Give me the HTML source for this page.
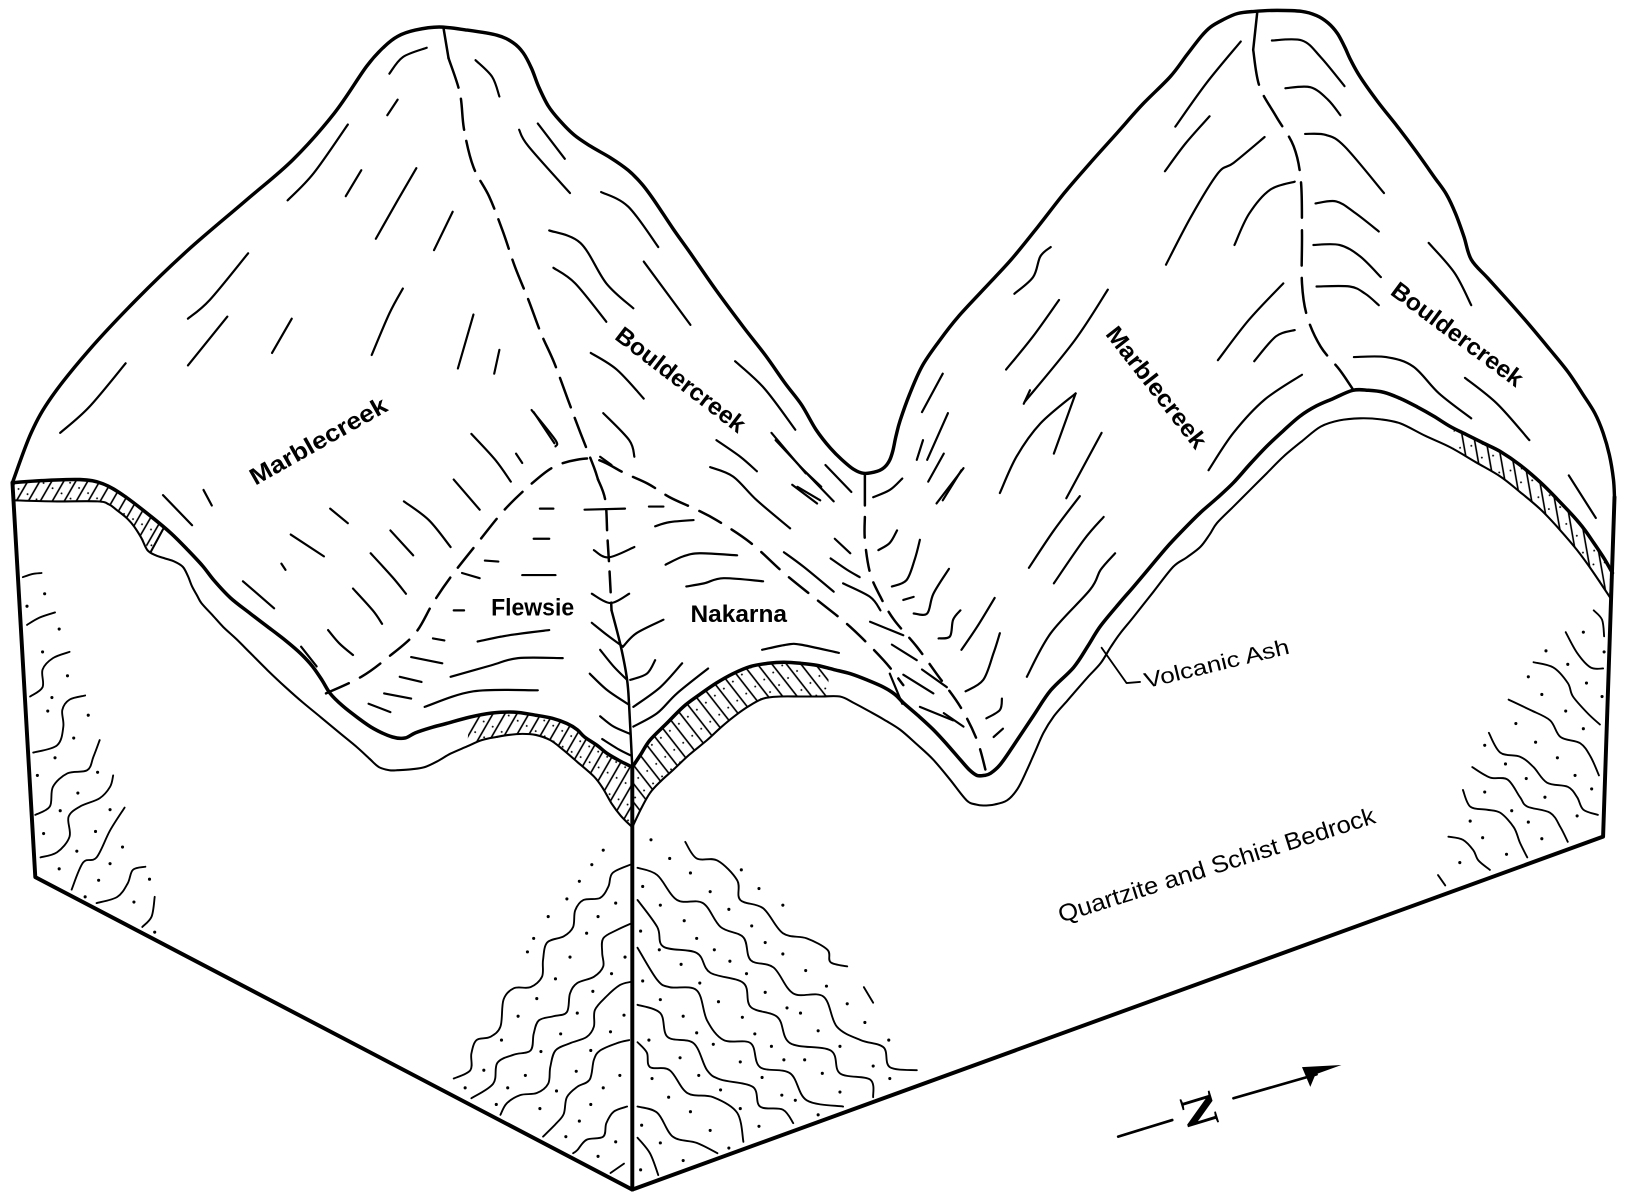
<!DOCTYPE html>
<html><head><meta charset="utf-8"><style>html,body{margin:0;padding:0;background:#fff;}svg{display:block}</style></head>
<body>
<svg id="dia" xmlns="http://www.w3.org/2000/svg" width="1628" height="1201" viewBox="0 0 1568 1157" preserveAspectRatio="none">
<defs>
<pattern id="hA" patternUnits="userSpaceOnUse" width="10" height="30" patternTransform="rotate(30)"><line x1="5" y1="0" x2="5" y2="30" stroke="#000" stroke-width="1.6"/><circle cx="1" cy="9" r="0.9"/><circle cx="9" cy="22" r="0.9"/></pattern>
<pattern id="hC" patternUnits="userSpaceOnUse" width="11" height="30" patternTransform="rotate(-38)"><line x1="5" y1="0" x2="5" y2="30" stroke="#000" stroke-width="1.6"/><circle cx="1" cy="9" r="0.9"/><circle cx="9" cy="22" r="0.9"/></pattern>
<pattern id="hD" patternUnits="userSpaceOnUse" width="11" height="30" patternTransform="rotate(-10)"><line x1="5" y1="0" x2="5" y2="30" stroke="#000" stroke-width="1.6"/><circle cx="1" cy="9" r="0.9"/><circle cx="9" cy="22" r="0.9"/></pattern>
<clipPath id="cA"><polygon points="12,465 40,463 77,462 99,466 120,478 146,498 158,508 145,532 136,518 129,507 122,499 112,491 105,486 94,483 50,483 12,482"/></clipPath>
<clipPath id="cB"><polygon points="452,691 473,687 495,686 516,689 532,692 546,697 556,703 563,710 575,718 585,726 597,733 609,739 609,797 598,786 589,774 581,760 572,748 556,734 542,722 530,713 516,708 503,707 490,708 478,710 464,713 450,719"/></clipPath>
<clipPath id="cC"><polygon points="609,739 617,727 626,713 642,697 658,681 674,669 690,658 706,649 723,642 740,639 755,638 771,639 787,641 798,644 798,671 790,671 771,671 752,671 735,673 720,681 706,691 694,701 681,713 664,727 648,742 637,752 626,764 617,780 609,797"/></clipPath>
<clipPath id="cD"><polygon points="1400,412 1413,419 1429,427 1445,435 1464,448 1484,465 1500,481 1516,498 1526,510 1535,523 1545,538 1553,552 1552,576 1551,576 1535,552 1519,530 1502,510 1484,491 1464,474 1445,459 1421,445 1400,432"/></clipPath>
</defs>
<rect width="1568" height="1157" fill="#fff"/>

<rect x="0" y="440" width="200" height="120" fill="url(#hA)" clip-path="url(#cA)"/>
<rect x="440" y="680" width="175" height="125" fill="url(#hA)" clip-path="url(#cB)"/>
<rect x="605" y="630" width="200" height="175" fill="url(#hC)" clip-path="url(#cC)"/>
<rect x="1390" y="400" width="170" height="180" fill="url(#hD)" clip-path="url(#cD)"/>

<g fill="none" stroke="#000" stroke-linecap="round" stroke-linejoin="round">
<!-- block edges (sharp) -->
<g stroke-width="3.8">
<polyline points="12,465 34,845 609,1146 1544,806 1555,479"/>
<line x1="609" y1="739" x2="609" y2="1146"/>
</g>
<line x1="427" y1="26" x2="432" y2="56" stroke-width="2.4"/>
<line x1="833" y1="456" x2="833" y2="487" stroke-width="2.4"/>
<line x1="1211" y1="11" x2="1207" y2="48" stroke-width="2.4"/>
<line x1="145" y1="532" x2="158" y2="508" stroke-width="2"/>

<g class="smooth">
<polyline stroke-width="3.3" points="12,465 30,417 50,382 86,337 131,289 181,241 237,193 282,154 322,109 353,64 370,45 383,35 400,29 423,26 450,29 479,34 494,41 504,51 512,66 519,84 528,102 539,116 553,130 569,141 588,152 605,164 618,177 630,193 648,220 665,244 690,280 716,315 737,342 756,369 772,390 786,414 800,432 811,443 822,452 832,456 845,454 852,450 857,443 860,434 863,420 867,405 876,380 888,353 905,328 923,305 948,278 974,250 1000,218 1025,186 1050,157 1076,128 1100,101 1127,74 1143,53 1157,35 1166,26 1178,19 1192,13 1208,11 1230,10 1254,11 1268,15 1279,22 1288,32 1295,45 1301,58 1310,74 1327,98 1346,122 1364,146 1381,170 1393,187 1402,206 1410,228 1417,250 1433,268 1452,289 1473,313 1493,337 1510,358 1524,379 1536,398 1544,417 1550,438 1554,462 1555,479"/>

<g stroke-width="3.4">
<polyline points="12,465 40,463 77,462 99,466 120,478 146,498 165,514 181,530 195,545 206,559 222,576 241,591 258,604 275,617 290,630 301,642 310,655 318,668 330,680 344,691 360,702 378,710 390,711 400,706 415,701 430,697 452,691 473,687 495,686 516,689 532,692 546,697 556,703 563,710 575,718 585,726 597,733 609,739"/>
<polyline points="609,739 617,727 626,713 642,697 658,681 674,669 690,658 706,649 723,642 740,639 755,638 771,639 787,641 803,645 819,649 835,655 851,662 862,669 870,677 885,690 899,703 912,717 925,732 934,742 941,747 948,747 954,745 963,737 975,720 995,690 1012,665 1034,643 1048,622 1060,603 1079,580 1092,565 1108,546 1124,527 1140,510 1156,494 1172,480 1188,465 1204,447 1220,430 1236,415 1252,401 1268,391 1284,384 1303,376 1318,376 1333,378 1349,384 1365,392 1381,401 1397,411 1413,419 1429,427 1445,435 1464,448 1484,465 1500,481 1516,498 1526,510 1535,523 1545,538 1553,552"/>
</g>
<g stroke-width="2">
<polyline points="12,482 50,483 94,483 105,486 112,491 122,499 129,507 136,518 142,530 150,535 159,538 168,541 176,546 181,555 185,565 190,574 194,581 205,593 215,604 228,616 241,629 258,646 275,662 292,677 309,691 327,706 344,720 356,731 365,739 375,742 383,742 397,741 409,739 422,733 434,726 450,719 464,713 478,710 490,708 503,707 516,708 530,713 542,722 556,734 572,748 581,760 589,774 598,786 609,797"/>
<polyline points="609,797 617,780 626,764 637,752 648,742 664,727 681,713 694,701 706,691 720,681 735,673 752,671 771,671 790,671 809,671 822,677 835,684 851,693 867,703 883,717 899,732 915,751 931,771 940,775 947,776 958,775 970,771 980,760 989,742 997,724 1005,706 1015,690 1028,675 1034,668 1048,652 1060,639 1070,623 1079,610 1092,594 1111,570 1130,546 1143,537 1156,527 1165,515 1172,504 1188,488 1204,472 1220,456 1236,440 1254,425 1272,411 1290,405 1310,403 1330,404 1349,408 1373,420 1397,431 1421,445 1445,459 1464,474 1484,491 1502,510 1519,530 1535,552 1551,576"/>
</g>

<g stroke-width="2.4">
<polyline stroke-dasharray="30 11" points="432,56 443,90 447,125 456,161 471,189 484,222 496,257 509,289 521,321 534,350 547,385 559,417 572,450 576,462"/>
<polyline stroke-dasharray="24 12" points="314,668 348,652 374,633 400,610 417,581 434,556 460,523 486,491 512,466 533,450 555,443 576,443 602,456 624,466 645,479 671,491 690,501 723,523 755,552 787,578 819,604 851,636 870,660"/>
<polyline stroke-dasharray="20 12" points="833,498 833,520 838,552 848,575 861,597 883,623 902,649 925,681 941,713 950,745"/>
<polyline stroke-dasharray="34 12" points="1207,48 1213,83 1229,112 1246,141 1253,175 1254,225 1254,273 1259,305 1272,334 1290,356 1303,375"/>
<polyline stroke-dasharray="20 10" points="576,462 583,482 585,517 587,549 589,588"/>
<polyline points="589,588 598,623 604,655 606,681 609,739"/>
</g>

<g stroke-width="2.1">
<polyline points="375,71 388,55 411,46"/>
<polyline points="373,111 383,96"/>
<polyline points="277,193 302,167 335,120"/>
<polyline points="333,189 348,164"/>
<polyline points="362,230 383,193 401,162"/>
<polyline points="418,241 436,204"/>
<polyline points="181,307 202,289 239,244"/>
<polyline points="181,352 219,305"/>
<polyline points="262,340 281,307"/>
<polyline points="358,342 375,302 388,278"/>
<polyline points="441,355 456,303"/>
<polyline points="476,360 481,337"/>
<polyline points="58,417 86,392 121,350"/>
<polyline points="157,477 185,506"/>
<polyline points="196,472 204,487"/>
<polyline points="318,490 335,504"/>
<polyline points="271,543 275,549"/>
<polyline points="280,515 312,536"/>
<polyline points="234,560 264,586"/>
<polyline points="376,511 398,535"/>
<polyline points="389,483 413,501 434,527"/>
<polyline points="437,462 462,491"/>
<polyline points="454,418 477,443 492,464"/>
<polyline points="497,437 503,446"/>
<polyline points="512,395 535,424 535,430"/>
<polyline points="581,398 606,424 611,440"/>
<polyline points="357,533 378,556 391,572"/>
<polyline points="340,567 359,588 368,601"/>
<polyline points="316,607 327,620 340,631"/>
<polyline points="290,623 305,642"/>
<polyline points="458,58 474,74 481,93"/>
<polyline points="500,125 509,141 549,186"/>
<polyline points="518,119 544,153"/>
<polyline points="579,185 605,199 634,238"/>
<polyline points="529,222 559,234 584,273 610,297"/>
<polyline points="533,258 554,273 584,310"/>
<polyline points="620,252 665,313"/>
<polyline points="569,340 594,356 620,384"/>
<polyline points="708,348 736,374 766,414"/>
<polyline points="514,397 534,427"/>
<polyline points="690,424 713,440 729,454"/>
<polyline points="743,417 776,456"/>
<polyline points="768,469 790,482"/>
<polyline points="684,450 706,459 729,482 761,509"/>
<polyline points="747,424 777,456 803,483"/>
<polyline points="763,467 787,485"/>
<polyline points="795,448 820,474"/>
<polyline points="804,519 819,533"/>
<polyline points="755,532 774,546 803,570"/>
<polyline points="800,538 816,549 828,556"/>
<polyline points="812,562 838,575 848,588"/>
<polyline points="838,599 870,612"/>
<polyline points="859,621 883,636"/>
<polyline points="870,650 899,668"/>
<polyline points="909,687 928,700"/>
<polyline points="888,645 912,662"/>
<polyline points="857,649 869,678"/>
<polyline points="886,681 918,694"/>
<polyline points="1132,122 1162,80 1195,40"/>
<polyline points="1122,165 1142,138 1165,112"/>
<polyline points="1123,255 1147,209 1173,167 1188,157 1218,132"/>
<polyline points="1189,236 1203,206 1223,183 1247,175"/>
<polyline points="1173,347 1203,308 1236,273"/>
<polyline points="1208,348 1229,324 1247,318"/>
<polyline points="977,283 995,267 1002,247 1012,238"/>
<polyline points="969,356 995,324 1020,289"/>
<polyline points="987,387 1035,328 1067,279"/>
<polyline points="1015,437 1036,379"/>
<polyline points="1027,480 1061,417"/>
<polyline points="1164,453 1188,417 1218,385 1254,361"/>
<polyline points="888,397 908,360"/>
<polyline points="893,443 913,398"/>
<polyline points="908,482 926,453"/>
<polyline points="771,450 791,469"/>
<polyline points="986,389 992,376"/>
<polyline points="963,475 979,440 1002,408 1036,379"/>
<polyline points="991,547 1015,511 1040,478"/>
<polyline points="1015,562 1044,520 1063,498"/>
<polyline points="989,652 1012,610 1050,568 1060,549 1074,533"/>
<polyline points="841,479 857,472 869,461"/>
<polyline points="846,530 857,523 864,511"/>
<polyline points="859,565 873,559 881,539 886,520"/>
<polyline points="870,578 880,575"/>
<polyline points="880,591 893,591 899,572 914,548"/>
<polyline points="904,615 915,613 918,597 925,588"/>
<polyline points="926,626 941,604 958,576"/>
<polyline points="930,666 947,655 957,629 963,610"/>
<polyline points="950,692 963,684 965,673"/>
<polyline points="957,710 966,702"/>
<polyline points="902,485 928,451"/>
<polyline points="894,464 909,437"/>
<polyline points="883,443 889,424"/>
<polyline points="1225,39 1254,39 1272,55 1295,83"/>
<polyline points="1238,85 1262,84 1279,96 1291,111"/>
<polyline points="1257,129 1277,130 1295,141 1333,186"/>
<polyline points="1267,196 1287,194 1305,205 1328,223"/>
<polyline points="1265,236 1290,236 1310,247 1330,267"/>
<polyline points="1268,276 1300,276 1315,283 1328,294"/>
<polyline points="1304,344 1335,344 1361,353 1386,379 1417,403"/>
<polyline points="1376,234 1401,263 1417,294"/>
<polyline points="1411,364 1442,389 1473,424"/>
<polyline points="1511,458 1537,499"/>
<polyline points="520,490 533,490"/>
<polyline points="514,519 529,519"/>
<polyline points="467,540 480,541"/>
<polyline points="503,554 535,554"/>
<polyline points="445,552 462,557"/>
<polyline points="437,588 447,588"/>
<polyline points="417,615 428,617"/>
<polyline points="460,618 490,612 529,607"/>
<polyline points="396,633 426,639"/>
<polyline points="434,652 473,641 499,634 542,634"/>
<polyline points="385,652 406,657"/>
<polyline points="370,668 396,673"/>
<polyline points="409,681 456,666 518,665"/>
<polyline points="355,678 376,686"/>
<polyline points="578,440 589,448"/>
<polyline points="625,488 639,488"/>
<polyline points="631,507 645,503 668,501"/>
<polyline points="641,544 658,536 674,533 710,535"/>
<polyline points="661,565 678,562 697,557 735,560"/>
<polyline points="734,626 758,621 771,621 808,629"/>
<polyline points="563,491 602,490"/>
<polyline points="572,530 586,537 611,527"/>
<polyline points="570,572 588,581 606,572"/>
<polyline points="570,600 585,612 600,623"/>
<polyline points="639,597 613,610 600,623"/>
<polyline points="578,626 591,642 604,655"/>
<polyline points="631,636 623,649 607,655"/>
<polyline points="568,649 585,665 606,679"/>
<polyline points="657,639 636,662 610,681"/>
<polyline points="578,690 591,700 607,707"/>
<polyline points="682,644 652,668 633,687 610,700"/>
<polyline points="580,712 596,722 608,728"/>
</g>

<g stroke-width="1.8">
<polyline points="22,556 31,553 40,552"/>
<polyline points="26,602 38,595 53,590"/>
<polyline points="29,671 41,662 41,645 51,634 67,628"/>
<polyline points="32,725 55,718 61,700 60,684 67,674 82,670"/>
<polyline points="34,785 48,777 51,758 65,745 84,742 90,729 96,713"/>
<polyline points="39,826 55,821 67,806 66,787 77,777 96,769 106,758 109,747"/>
<polyline points="69,857 80,831 93,826 106,800 120,778"/>
<polyline points="93,870 113,864 123,851 128,838 140,835"/>
<polyline points="137,893 146,883 149,864"/>
<polyline points="1535,588 1543,597 1545,613"/>
<polyline points="1508,609 1519,629 1532,643 1544,644"/>
<polyline points="1477,638 1496,643 1510,658 1515,671 1529,687 1541,698"/>
<polyline points="1453,674 1474,684 1493,694 1503,710 1522,716 1532,729 1540,747"/>
<polyline points="1434,706 1445,725 1464,729 1477,739 1490,754 1510,758 1519,768 1525,780 1539,785"/>
<polyline points="1418,739 1435,749 1452,751 1464,768 1471,777 1493,783 1503,797 1510,811"/>
<polyline points="1409,761 1416,777 1432,780 1445,783 1458,797 1464,812 1471,826"/>
<polyline points="1395,806 1409,809 1419,819 1424,829 1435,838"/>
<polyline points="1385,843 1392,853"/>
<polyline points="607,833 590,841 586,854 578,865 562,867 554,877 552,893 543,902 527,908 523,925 522,941 511,951 495,952 485,963 482,989 472,999 459,1002 454,1015 453,1031 437,1039"/>
<polyline points="607,890 594,896 581,904 580,918 581,931 572,941 556,947 549,957 546,975 533,979 519,983 514,996 511,1012 495,1016 479,1024 475,1044 454,1058"/>
<polyline points="607,946 597,949 584,960 573,973 572,989 565,999 549,1005 535,1012 530,1028 528,1044 517,1053 501,1055 488,1063 482,1074"/>
<polyline points="606,1002 594,1005 578,1012 572,1021 568,1040 556,1047 546,1057 543,1073 536,1082 523,1095"/>
<polyline points="604,1066 591,1071 584,1082 581,1095 565,1098 556,1108 552,1111"/>
<polyline points="601,1121 588,1130"/>
<polyline points="660,811 671,827 691,829 710,848 713,867 735,875 754,899 777,904 797,915 800,927 816,931"/>
<polyline points="614,836 633,843 652,867 677,870 694,893 716,903 723,925 745,932 764,957 793,960 806,989 829,1002 851,1009 857,1028 883,1031"/>
<polyline points="614,867 633,893 639,912 671,918 684,937 716,947 723,970 749,980 761,1005 800,1012 809,1034 838,1040 841,1057"/>
<polyline points="614,913 633,944 645,951 671,954 681,983 697,1002 723,1005 732,1028 761,1034 777,1060 812,1066"/>
<polyline points="614,968 636,976 643,999 668,1005 681,1031 694,1040 725,1047 732,1066 754,1069 764,1082"/>
<polyline points="614,1004 623,1014 626,1028 645,1031 662,1053 687,1057 710,1072 716,1100"/>
<polyline points="614,1066 633,1072 648,1095 671,1101 691,1111"/>
<polyline points="614,1096 626,1111 634,1132"/>
<polyline points="832,951 841,966"/>
</g>
</g>

<polyline stroke-width="1.8" points="1061,624 1085,658 1098,657"/>
<line x1="1077" y1="1095" x2="1129" y2="1079" stroke-width="2.6"/>
<line x1="1188" y1="1058" x2="1268" y2="1035" stroke-width="2.6"/>
</g>
<polygon points="1292,1026 1254,1028 1262,1047 1267,1035" fill="#000"/>

<g fill="#000">
<circle cx="43" cy="572" r="1.5"/><circle cx="26" cy="584" r="1.5"/><circle cx="57" cy="606" r="1.5"/><circle cx="41" cy="628" r="1.5"/><circle cx="65" cy="651" r="1.5"/><circle cx="50" cy="672" r="1.5"/><circle cx="46" cy="685" r="1.5"/><circle cx="85" cy="689" r="1.5"/><circle cx="71" cy="711" r="1.5"/><circle cx="53" cy="730" r="1.5"/><circle cx="36" cy="747" r="1.5"/><circle cx="94" cy="744" r="1.5"/><circle cx="75" cy="764" r="1.5"/><circle cx="58" cy="781" r="1.5"/><circle cx="106" cy="780" r="1.5"/><circle cx="42" cy="803" r="1.5"/><circle cx="92" cy="801" r="1.5"/><circle cx="74" cy="820" r="1.5"/><circle cx="118" cy="816" r="1.5"/><circle cx="106" cy="832" r="1.5"/><circle cx="57" cy="837" r="1.5"/><circle cx="95" cy="848" r="1.5"/><circle cx="144" cy="847" r="1.5"/><circle cx="82" cy="864" r="1.5"/><circle cx="129" cy="869" r="1.5"/><circle cx="149" cy="898" r="1.5"/>
<circle cx="1525" cy="609" r="1.5"/><circle cx="1545" cy="628" r="1.5"/><circle cx="1489" cy="627" r="1.5"/><circle cx="1510" cy="640" r="1.5"/><circle cx="1472" cy="652" r="1.5"/><circle cx="1528" cy="658" r="1.5"/><circle cx="1543" cy="671" r="1.5"/><circle cx="1485" cy="669" r="1.5"/><circle cx="1508" cy="685" r="1.5"/><circle cx="1525" cy="702" r="1.5"/><circle cx="1460" cy="697" r="1.5"/><circle cx="1479" cy="715" r="1.5"/><circle cx="1430" cy="718" r="1.5"/><circle cx="1500" cy="730" r="1.5"/><circle cx="1450" cy="736" r="1.5"/><circle cx="1517" cy="747" r="1.5"/><circle cx="1470" cy="750" r="1.5"/><circle cx="1533" cy="760" r="1.5"/><circle cx="1430" cy="763" r="1.5"/><circle cx="1488" cy="768" r="1.5"/><circle cx="1519" cy="786" r="1.5"/><circle cx="1456" cy="781" r="1.5"/><circle cx="1416" cy="791" r="1.5"/><circle cx="1472" cy="792" r="1.5"/><circle cx="1428" cy="807" r="1.5"/><circle cx="1485" cy="808" r="1.5"/><circle cx="1451" cy="823" r="1.5"/><circle cx="1406" cy="831" r="1.5"/>
<circle cx="581" cy="819" r="1.5"/><circle cx="570" cy="833" r="1.5"/><circle cx="558" cy="849" r="1.5"/><circle cx="546" cy="866" r="1.5"/><circle cx="593" cy="870" r="1.5"/><circle cx="576" cy="883" r="1.5"/><circle cx="528" cy="883" r="1.5"/><circle cx="565" cy="899" r="1.5"/><circle cx="514" cy="904" r="1.5"/><circle cx="508" cy="917" r="1.5"/><circle cx="549" cy="922" r="1.5"/><circle cx="602" cy="922" r="1.5"/><circle cx="589" cy="938" r="1.5"/><circle cx="535" cy="943" r="1.5"/><circle cx="571" cy="955" r="1.5"/><circle cx="517" cy="962" r="1.5"/><circle cx="601" cy="978" r="1.5"/><circle cx="556" cy="976" r="1.5"/><circle cx="499" cy="979" r="1.5"/><circle cx="540" cy="996" r="1.5"/><circle cx="588" cy="994" r="1.5"/><circle cx="483" cy="1002" r="1.5"/><circle cx="521" cy="1013" r="1.5"/><circle cx="569" cy="1012" r="1.5"/><circle cx="466" cy="1031" r="1.5"/><circle cx="506" cy="1036" r="1.5"/><circle cx="555" cy="1032" r="1.5"/><circle cx="597" cy="1036" r="1.5"/><circle cx="448" cy="1048" r="1.5"/><circle cx="489" cy="1048" r="1.5"/><circle cx="536" cy="1051" r="1.5"/><circle cx="581" cy="1048" r="1.5"/><circle cx="478" cy="1064" r="1.5"/><circle cx="520" cy="1068" r="1.5"/><circle cx="569" cy="1064" r="1.5"/><circle cx="558" cy="1080" r="1.5"/><circle cx="545" cy="1095" r="1.5"/><circle cx="593" cy="1100" r="1.5"/><circle cx="576" cy="1114" r="1.5"/><circle cx="617" cy="1127" r="1.5"/>
<circle cx="627" cy="809" r="1.5"/><circle cx="645" cy="827" r="1.5"/><circle cx="665" cy="841" r="1.5"/><circle cx="714" cy="838" r="1.5"/><circle cx="619" cy="854" r="1.5"/><circle cx="684" cy="859" r="1.5"/><circle cx="731" cy="856" r="1.5"/><circle cx="636" cy="872" r="1.5"/><circle cx="702" cy="876" r="1.5"/><circle cx="754" cy="872" r="1.5"/><circle cx="659" cy="887" r="1.5"/><circle cx="724" cy="892" r="1.5"/><circle cx="617" cy="897" r="1.5"/><circle cx="671" cy="904" r="1.5"/><circle cx="737" cy="908" r="1.5"/><circle cx="635" cy="915" r="1.5"/><circle cx="688" cy="915" r="1.5"/><circle cx="754" cy="919" r="1.5"/><circle cx="656" cy="929" r="1.5"/><circle cx="703" cy="926" r="1.5"/><circle cx="776" cy="935" r="1.5"/><circle cx="719" cy="938" r="1.5"/><circle cx="619" cy="945" r="1.5"/><circle cx="674" cy="947" r="1.5"/><circle cx="796" cy="950" r="1.5"/><circle cx="737" cy="956" r="1.5"/><circle cx="692" cy="965" r="1.5"/><circle cx="636" cy="963" r="1.5"/><circle cx="816" cy="967" r="1.5"/><circle cx="758" cy="971" r="1.5"/><circle cx="771" cy="976" r="1.5"/><circle cx="658" cy="979" r="1.5"/><circle cx="715" cy="980" r="1.5"/><circle cx="833" cy="985" r="1.5"/><circle cx="788" cy="993" r="1.5"/><circle cx="671" cy="995" r="1.5"/><circle cx="727" cy="996" r="1.5"/><circle cx="625" cy="1002" r="1.5"/><circle cx="687" cy="1006" r="1.5"/><circle cx="743" cy="1008" r="1.5"/><circle cx="809" cy="1008" r="1.5"/><circle cx="856" cy="1002" r="1.5"/><circle cx="655" cy="1019" r="1.5"/><circle cx="755" cy="1021" r="1.5"/><circle cx="775" cy="1021" r="1.5"/><circle cx="713" cy="1023" r="1.5"/><circle cx="841" cy="1027" r="1.5"/><circle cx="628" cy="1039" r="1.5"/><circle cx="673" cy="1036" r="1.5"/><circle cx="734" cy="1038" r="1.5"/><circle cx="792" cy="1034" r="1.5"/><circle cx="857" cy="1039" r="1.5"/><circle cx="644" cy="1057" r="1.5"/><circle cx="694" cy="1050" r="1.5"/><circle cx="753" cy="1055" r="1.5"/><circle cx="766" cy="1060" r="1.5"/><circle cx="809" cy="1052" r="1.5"/><circle cx="713" cy="1068" r="1.5"/><circle cx="665" cy="1071" r="1.5"/><circle cx="788" cy="1074" r="1.5"/><circle cx="618" cy="1084" r="1.5"/><circle cx="731" cy="1085" r="1.5"/><circle cx="684" cy="1089" r="1.5"/><circle cx="636" cy="1101" r="1.5"/><circle cx="702" cy="1106" r="1.5"/><circle cx="658" cy="1118" r="1.5"/>
</g>

<g font-family="'Liberation Sans', sans-serif" font-weight="bold" font-size="23" fill="#000">
<text transform="translate(246,468) rotate(-29.5)" textLength="148" lengthAdjust="spacingAndGlyphs">Marblecreek</text>
<text transform="translate(591,326) rotate(37.5)" textLength="151" lengthAdjust="spacingAndGlyphs">Bouldercreek</text>
<text x="473" y="593" textLength="80" lengthAdjust="spacingAndGlyphs">Flewsie</text>
<text x="665" y="599" textLength="93" lengthAdjust="spacingAndGlyphs">Nakarna</text>
<text transform="translate(1064,322) rotate(52)" textLength="142" lengthAdjust="spacingAndGlyphs">Marblecreek</text>
<text transform="translate(1338,283) rotate(36.6)" textLength="152" lengthAdjust="spacingAndGlyphs">Bouldercreek</text>
</g>
<g font-family="'Liberation Sans', sans-serif" fill="#000">
<text transform="translate(1104,663) rotate(-13.6)" font-size="21" textLength="143" lengthAdjust="spacingAndGlyphs">Volcanic Ash</text>
<text transform="translate(1022,889) rotate(-17.6)" font-size="23" textLength="319" lengthAdjust="spacingAndGlyphs">Quartzite and Schist Bedrock</text>
</g>
<text transform="translate(1155,1070) rotate(73)" x="0" y="15" text-anchor="middle" font-family="'Liberation Serif', serif" font-weight="bold" font-size="46" fill="#000">N</text>
</svg>
<script>
(function(){
  var NS='http://www.w3.org/2000/svg';
  var list=document.querySelectorAll('g.smooth polyline');
  for(var k=0;k<list.length;k++){
    var pl=list[k];
    var raw=pl.getAttribute('points').trim().split(/\s+/);
    var P=[];
    for(var i=0;i<raw.length;i++){var c=raw[i].split(',');P.push([+c[0],+c[1]]);}
    if(P.length<3) continue;
    var d='M'+P[0][0]+' '+P[0][1];
    for(var i=0;i<P.length-1;i++){
      var p0=P[i>0?i-1:i],p1=P[i],p2=P[i+1],p3=P[i+2<P.length?i+2:i+1];
      var c1x=p1[0]+(p2[0]-p0[0])/6,c1y=p1[1]+(p2[1]-p0[1])/6;
      var c2x=p2[0]-(p3[0]-p1[0])/6,c2y=p2[1]-(p3[1]-p1[1])/6;
      d+=' C'+c1x.toFixed(1)+' '+c1y.toFixed(1)+' '+c2x.toFixed(1)+' '+c2y.toFixed(1)+' '+p2[0]+' '+p2[1];
    }
    var p=document.createElementNS(NS,'path');
    for(var a=0;a<pl.attributes.length;a++){var at=pl.attributes[a];if(at.name!=='points')p.setAttribute(at.name,at.value);}
    p.setAttribute('d',d);
    pl.parentNode.replaceChild(p,pl);
  }
})();
</script>
</body></html>
